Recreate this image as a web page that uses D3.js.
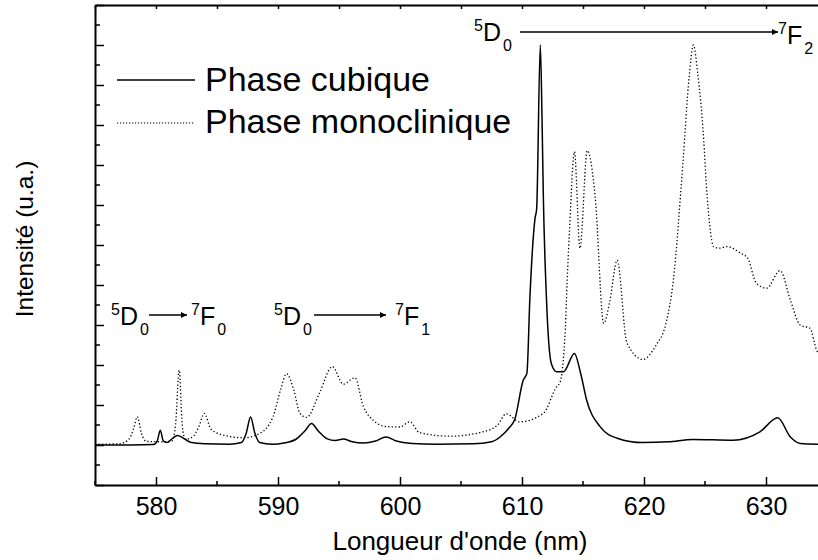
<!DOCTYPE html>
<html><head><meta charset="utf-8">
<script src="https://cdn.jsdelivr.net/npm/d3@7"></script>
<style>body{margin:0;background:#fff}svg{display:block}text{font-family:"Liberation Sans",Arial,Helvetica,sans-serif;fill:#000}</style>
</head><body><div id="chart"></div>
<script>
// ---- data ----
const cubicNm = [575,578,579.8,580.1,580.35,580.6,580.9,581.3,581.75,582.2,582.8,584,586,587.0,587.4,587.75,588.1,588.5,589.5,590.5,591.5,592.2,592.75,593.3,594,594.7,595.35,596,597,598,598.85,599.7,601,603,606,607.5,608.2,609.0,609.4,610.1,610.4,610.65,611.07,611.2,611.5,611.64,611.75,612.0,612.4,612.85,613.4,614.3,614.8,615.3,616.4,617.8,619.9,622,624,627.3,629.5,630.96,632,632.8,634.5];
const cubicInt = [0,0,0.01,0.1,0.37,0.1,0.06,0.15,0.24,0.18,0.07,0.03,0.02,0.06,0.3,0.7,0.3,0.06,0.02,0.05,0.15,0.35,0.54,0.35,0.16,0.11,0.15,0.09,0.05,0.1,0.2,0.1,0.04,0.02,0.03,0.08,0.2,0.45,0.63,1.62,1.79,3.7,5.67,5.9,10.0,8.2,6.2,3.7,2.04,1.83,1.83,2.29,1.8,1.12,0.46,0.17,0.06,0.08,0.14,0.12,0.33,0.68,0.2,0.04,0.02];
const monoNm = [575,577.0,577.8,578.2,578.47,578.8,579.2,580.5,581.3,581.6,581.9,582.15,582.4,583.0,583.5,583.96,584.5,585.5,587.2,588.5,589.6,590.2,590.7,591.3,591.8,592.35,593.4,594.45,595.35,596.3,597.0,597.8,598.9,600.0,600.8,601.6,604.1,606.8,608.0,608.7,609.8,611.75,612.85,613.1,613.55,613.7,613.9,614.3,614.75,615.35,616.0,616.7,617.2,617.8,618.6,619.9,621.0,621.8,622.4,623.2,623.7,624.05,624.4,624.9,625.1,625.4,625.7,626.2,626.8,627.9,628.5,629.2,630.05,631.15,632.0,632.8,633.6,634.15,634.5];
const monoInt = [0.02,0.03,0.15,0.45,0.71,0.3,0.09,0.08,0.1,0.5,1.87,0.5,0.15,0.2,0.45,0.79,0.4,0.25,0.18,0.29,0.71,1.37,1.78,1.37,0.79,0.69,1.3,1.96,1.52,1.68,0.96,0.62,0.46,0.45,0.58,0.31,0.22,0.33,0.5,0.78,0.58,0.79,1.46,1.55,2.9,4.1,5.4,7.33,4.92,7.36,6.2,3.04,3.6,4.62,2.55,2.14,2.5,3.04,4.1,7.1,9.2,10.0,9.3,7.6,6.55,5.46,4.96,4.92,4.96,4.8,4.67,4.05,3.92,4.36,3.62,3.0,2.92,2.37,2.2];
const xTicks = [580,590,600,610,620,630];
const xMinorTicks = [575,585,595,605,615,625];
const yMajorTicks = [-1,0,1,2,3,4,5,6,7,8,9,10,11];
const yMinorTicks = [-0.5,0.5,1.5,2.5,3.5,4.5,5.5,6.5,7.5,8.5,9.5,10.5];
const seriesNames = ["Phase cubique","Phase monoclinique"];
const xTitle = "Longueur d'onde (nm)";
const yTitle = "Intensité (u.a.)";

// ---- chart ----
const W = 818, H = 560;
const svg = d3.select("#chart").append("svg").attr("width", W).attr("height", H);
const x = d3.scaleLinear().domain([575, 635]).range([95, 827]);
const y = d3.scaleLinear().domain([-1, 11]).range([485, 5]);

const cubic = cubicNm.map((d,i)=>[d,cubicInt[i]]);
const mono = monoNm.map((d,i)=>[d,monoInt[i]]);
const line = d3.line().x(d=>x(d[0])).y(d=>y(d[1])).curve(d3.curveMonotoneX);

const defs = svg.append("defs");
defs.append("clipPath").attr("id","clip").append("rect")
  .attr("x",95).attr("y",5).attr("width",W-95).attr("height",480);

const g = svg.append("g").attr("clip-path","url(#clip)");
g.append("path").datum(mono).attr("d",line).attr("fill","none").attr("stroke","#000")
  .attr("stroke-width",1.3).attr("stroke-dasharray","1.3,2.2");
g.append("path").datum(cubic).attr("d",line).attr("fill","none").attr("stroke","#000")
  .attr("stroke-width",1.5);

// axes
const xAxis = d3.axisBottom(x).tickValues(xTicks).tickSizeInner(-8).tickSizeOuter(0).tickPadding(12);
const gx = svg.append("g").attr("transform",`translate(0,${y(-1)})`).call(xAxis);
gx.selectAll("text").attr("font-size",25).attr("dy","0.71em");
gx.append("g").selectAll("line").data(xMinorTicks).join("line")
  .attr("x1",d=>x(d)).attr("x2",d=>x(d)).attr("y1",0).attr("y2",-4).attr("stroke","#000").attr("stroke-width",1.5);

const xTop = d3.axisTop(x).tickValues(xTicks.concat(xMinorTicks)).tickSizeInner(-4).tickSizeOuter(0).tickFormat("");
svg.append("g").attr("transform",`translate(0,${y(11)})`).call(xTop);

const yAxis = d3.axisLeft(y).tickValues(yMajorTicks).tickSizeInner(-9).tickSizeOuter(0).tickFormat("");
const gy = svg.append("g").attr("transform",`translate(${x(575)},0)`).call(yAxis);
gy.append("g").selectAll("line").data(yMinorTicks).join("line")
  .attr("x1",0).attr("x2",5).attr("y1",d=>y(d)).attr("y2",d=>y(d)).attr("stroke","#000").attr("stroke-width",1.5);

svg.selectAll(".domain").attr("stroke","#000").attr("stroke-width",2);
svg.selectAll(".tick line").attr("stroke","#000").attr("stroke-width",1.5);

svg.append("text").attr("x",460).attr("y",550).attr("text-anchor","middle").attr("font-size",26).text(xTitle);
svg.append("text").attr("transform","translate(33,239) rotate(-90)").attr("text-anchor","middle").attr("font-size",24.5).text(yTitle);

// legend
const leg = svg.append("g");
leg.append("line").attr("x1",117).attr("x2",195).attr("y1",80).attr("y2",80).attr("stroke","#000").attr("stroke-width",1.3);
leg.append("line").attr("x1",117).attr("x2",195).attr("y1",123).attr("y2",123).attr("stroke","#000").attr("stroke-width",1.2).attr("stroke-dasharray","1.2,1.8");
leg.append("text").attr("x",205).attr("y",91).attr("font-size",34).text(seriesNames[0]);
leg.append("text").attr("x",205).attr("y",133).attr("font-size",34).text(seriesNames[1]);

// annotations
defs.append("marker").attr("id","arr").attr("viewBox","0 0 10 10").attr("refX",10).attr("refY",5)
  .attr("markerWidth",11).attr("markerHeight",6).attr("markerUnits","userSpaceOnUse").attr("orient","auto")
  .append("path").attr("d","M0,0L10,5L0,10Z").attr("fill","#000");

function level(xp, yb, sup, letter, sub, fs){
  const t = svg.append("text").attr("x",xp).attr("y",yb).attr("font-size",fs);
  t.append("tspan").attr("font-size",fs*0.64).attr("dy",-fs*0.42).text(sup);
  t.append("tspan").attr("dy",fs*0.42).text(letter);
  t.append("tspan").attr("font-size",fs*0.64).attr("dy",fs*0.4).attr("dx",2).text(sub);
}
function arrow(x1,x2,yy){
  svg.append("line").attr("x1",x1).attr("x2",x2).attr("y1",yy).attr("y2",yy)
    .attr("stroke","#000").attr("stroke-width",1.3).attr("marker-end","url(#arr)");
}
level(111,325,"5","D","0",25); arrow(149,187,315); level(191,325,"7","F","0",25);
level(274,325,"5","D","0",25); arrow(314,386,315); level(395,325,"7","F","1",25);
level(474,41,"5","D","0",25); arrow(520,778,32); level(778,44,"7","F","2",25);
</script></body></html>
